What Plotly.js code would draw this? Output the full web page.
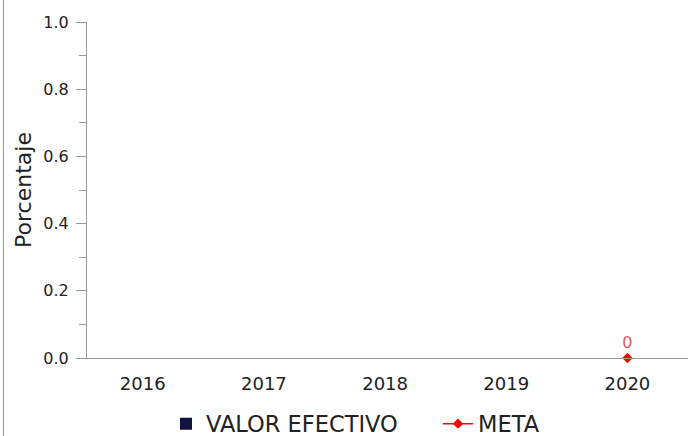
<!DOCTYPE html>
<html>
<head>
<meta charset="utf-8">
<script src="https://cdn.plot.ly/plotly-3.0.1.min.js"></script>
<style>
html,body{margin:0;padding:0;background:#fff;}
#wrap{position:relative;width:688px;height:436px;}
#edge{position:absolute;left:3px;top:0;width:1px;height:436px;background:#9a9a9a;}
#chart{position:absolute;left:0;top:0;width:688px;height:436px;}
</style>
</head>
<body>
<div id="wrap"><div id="chart"></div><div id="edge"></div></div>
<script>
const years = ['2016', '2017', '2018', '2019', '2020'];
const valorEfectivo = [null, null, null, null, null];
const meta = [null, null, null, null, 0];
const metaLabels = ['', '', '', '', '0'];
const yTickVals = [0, 0.2, 0.4, 0.6, 0.8, 1.0];
const yTickText = ['0.0', '0.2', '0.4', '0.6', '0.8', '1.0'];

const traces = [
  {
    type: 'bar', name: 'VALOR EFECTIVO', x: years, y: valorEfectivo,
    marker: {color: '#12123f'}, showlegend: true
  },
  {
    type: 'scatter', mode: 'lines+markers+text', name: 'META', x: years, y: meta,
    text: metaLabels, textposition: 'top center',
    textfont: {family: 'DejaVu Sans', size: 16, color: '#e05a5a'},
    line: {color: '#ff0000', width: 1.5},
    marker: {symbol: 'diamond', size: 8, color: '#ff0000'},
    cliponaxis: false
  }
];

const layout = {
  width: 688, height: 436,
  margin: {l: 87, r: 0, t: 22, b: 78},
  paper_bgcolor: '#ffffff', plot_bgcolor: '#ffffff',
  font: {family: 'DejaVu Sans', color: '#222'},
  showlegend: true,
  legend: {
    orientation: 'h', xref: 'container', yref: 'container',
    x: 166 / 688, xanchor: 'left', y: 12 / 436, yanchor: 'middle',
    font: {family: 'DejaVu Sans', size: 22.5, color: '#222'},
    entrywidth: 227, traceorder: 'normal'
  },
  xaxis: {
    type: 'category', range: [-0.46, 4.5], showgrid: false, zeroline: false,
    showline: true, linecolor: '#999', linewidth: 1,
    ticks: '', ticklabelstandoff: 9,
    tickfont: {family: 'DejaVu Sans', size: 18, color: '#222'},
    fixedrange: true
  },
  yaxis: {
    range: [0, 1], showgrid: false, zeroline: false,
    showline: true, linecolor: '#999', linewidth: 1,
    tickvals: yTickVals, ticktext: yTickText,
    ticks: 'outside', ticklen: 10, tickcolor: '#999', ticklabelstandoff: 4,
    tickfont: {family: 'DejaVu Sans', size: 16, color: '#222'},
    minor: {dtick: 0.1, ticks: 'outside', ticklen: 7, tickcolor: '#999', showgrid: false},
    title: {text: 'Porcentaje', font: {family: 'DejaVu Sans', size: 22, color: '#222'}, standoff: 5},
    fixedrange: true
  }
};

Plotly.newPlot('chart', traces, layout, {displayModeBar: false, staticPlot: true});
</script>
</body>
</html>
